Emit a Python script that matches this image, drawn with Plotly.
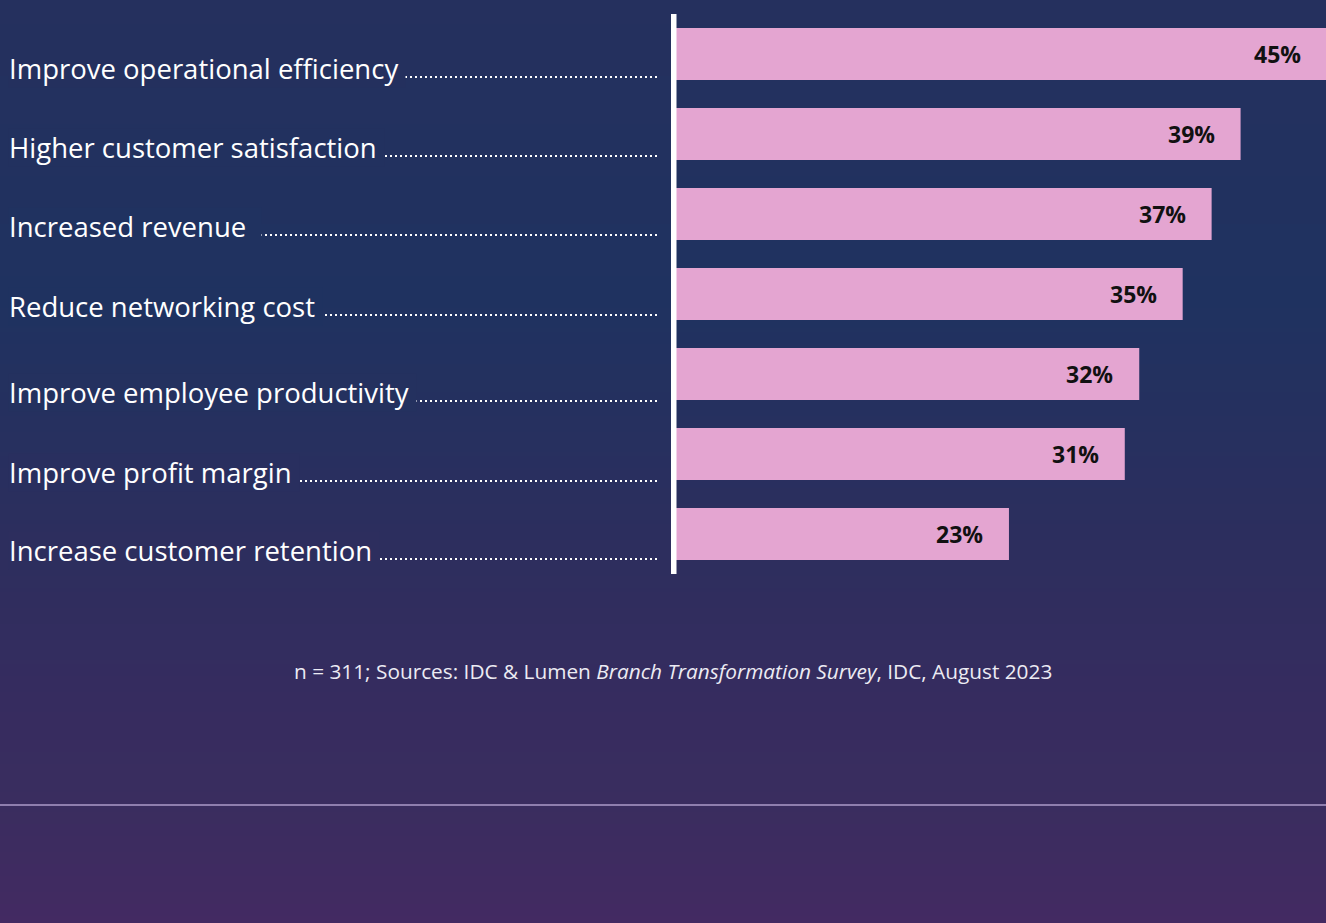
import plotly.graph_objects as go

# ---- data ----
categories = [
    "Improve operational efficiency",
    "Higher customer satisfaction",
    "Increased revenue",
    "Reduce networking cost",
    "Improve employee productivity",
    "Improve profit margin",
    "Increase customer retention",
]
values = [45, 39, 37, 35, 32, 31, 23]
footnote = "n = 311; Sources: IDC &amp; Lumen <i>Branch Transformation Survey</i>, IDC, August 2023"

# ---- style ----
W, H = 1326, 923
ML, MT, PH = 676, 14, 560
MB = H - MT - PH
PW = W - ML
XMAX = 44.9
PITCH = PH / len(categories)
baseline_off = [23, 22, 21, 21, 27, 27, 25]   # px below bar centre
BAR = "#e4a5d1"
FONT = "Open Sans"

# background gradient stops (y in px from top, colour)
stops = [(0, (0x25, 0x30, 0x5E)), (300, (0x1F, 0x32, 0x60)), (550, (0x2D, 0x2E, 0x5E)),
         (700, (0x36, 0x2C, 0x5F)), (805, (0x3A, 0x2D, 0x5F)), (923, (0x43, 0x2A, 0x62))]


def grad(ypx):
    for (y0, c0), (y1, c1) in zip(stops[:-1], stops[1:]):
        if y0 <= ypx <= y1:
            t = (ypx - y0) / (y1 - y0)
            c = [round(a + (b - a) * t) for a, b in zip(c0, c1)]
            return "rgb(%d,%d,%d)" % tuple(c)
    return "rgb(%d,%d,%d)" % stops[-1][1]


def py(ypx):  # page px -> paper y
    return 1 + MT / PH - ypx / PH


def px(xpx):  # page px -> paper x
    return (xpx - ML) / PW


idx = list(range(len(categories)))
fig = go.Figure()
fig.add_trace(go.Bar(
    x=values, y=idx, orientation="h", width=0.65,
    marker=dict(color=BAR, line=dict(width=0)),
    hoverinfo="skip", showlegend=False,
))

shapes = []
band = 4
for y in range(0, H, band):
    shapes.append(dict(type="rect", xref="paper", yref="paper", layer="below",
                       x0=px(-5), x1=px(W + 5),
                       y0=py(y + band) - 0.0005, y1=py(y),
                       fillcolor=grad(y + band / 2), line=dict(width=0)))
# white axis line
shapes.append(dict(type="rect", xref="paper", yref="paper",
                   x0=px(671), x1=px(676.5), y0=0, y1=1,
                   fillcolor="white", line=dict(width=0)))
# bottom separator line
shapes.append(dict(type="line", xref="paper", yref="paper",
                   x0=px(0), x1=px(W), y0=py(805), y1=py(805),
                   line=dict(color="#8f7fae", width=2)))

annotations = []
for i, (c, v) in enumerate(zip(categories, values)):
    bo = baseline_off[i]
    ybase = i + bo / PITCH
    # dot leader
    shapes.append(dict(type="line", xref="paper", yref="y",
                       x0=px(40), x1=px(660),
                       y0=ybase, y1=ybase, layer="below",
                       line=dict(color="white", width=2, dash="2px,3px")))
    ypx = MT + (i + 0.5) * PITCH + bo - 9
    annotations.append(dict(
        xref="paper", yref="y", x=px(8), y=i + (bo - 9) / PITCH,
        xanchor="left", yanchor="middle", showarrow=False,
        text=c + ("&nbsp;&nbsp;" if c == "Increased revenue" else "&nbsp;"),
        font=dict(family=FONT, size=27.5, color="white"),
        bgcolor=grad(ypx), borderpad=0,
    ))
    annotations.append(dict(
        xref="paper", yref="y", x=v / XMAX, y=i, xshift=-24, xanchor="right", yanchor="middle",
        showarrow=False, text=f"<b>{v}%</b>",
        font=dict(family=FONT, size=23, color="#111111"),
    ))

annotations.append(dict(
    xref="paper", yref="paper", x=px(673), y=py(671),
    xanchor="center", yanchor="middle", showarrow=False, text=footnote,
    font=dict(family=FONT, size=20.8, color="#ecebf3"),
))

fig.update_layout(
    width=W, height=H,
    margin=dict(l=ML, r=0, t=MT, b=MB, pad=0),
    paper_bgcolor=grad(400), plot_bgcolor="rgba(0,0,0,0)",
    xaxis=dict(range=[0, XMAX], visible=False, fixedrange=True),
    yaxis=dict(range=[len(categories) - 0.5, -0.5], visible=False, fixedrange=True),
    shapes=shapes, annotations=annotations,
    bargap=0.35, showlegend=False,
)

fig.write_html("out.html", config={"displayModeBar": False, "staticPlot": True},
               post_script="document.body.style.margin='0';document.body.style.overflow='hidden';")
